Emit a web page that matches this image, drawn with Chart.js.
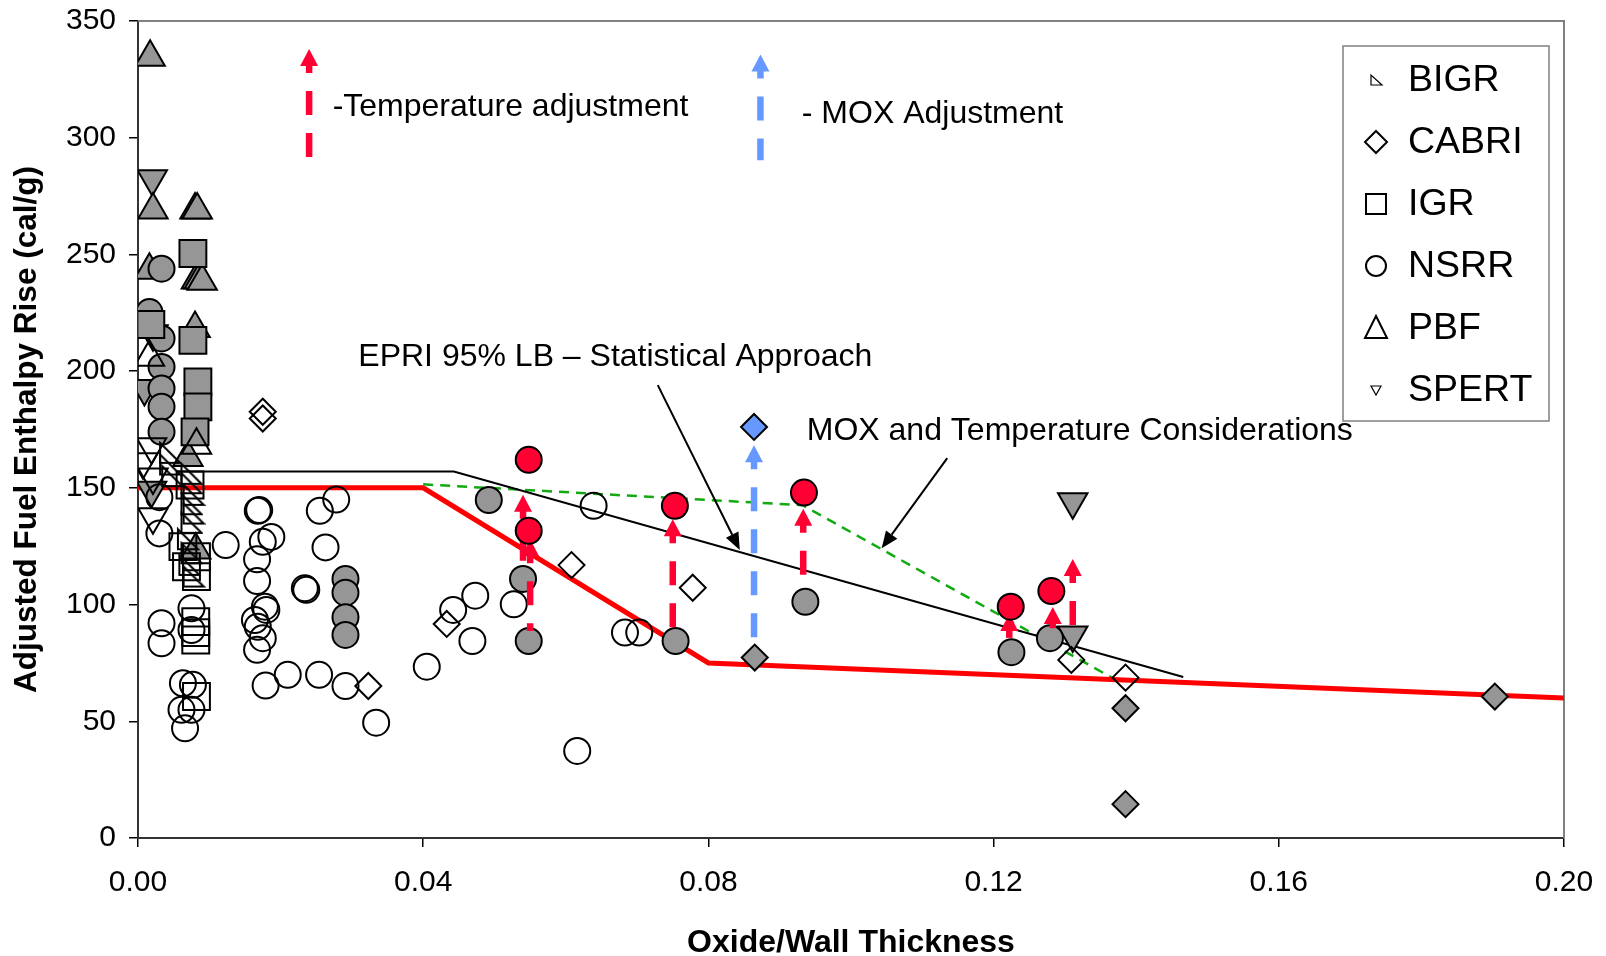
<!DOCTYPE html>
<html>
<head>
<meta charset="utf-8">
<script src="https://cdn.jsdelivr.net/npm/chart.js@4.4.1/dist/chart.umd.min.js"></script>
<style>
html,body{margin:0;padding:0;background:#fff;}
#wrap{width:1606px;height:956px;position:relative;}
</style>
</head>
<body>
<div id="wrap"><canvas id="c" width="1606" height="956"></canvas></div>
<script>
// ---------------- DATA ----------------
const xTicks = [0, 0.04, 0.08, 0.12, 0.16, 0.20];
const yTicks = [0, 50, 100, 150, 200, 250, 300, 350];
const legendSeries = ['BIGR', 'CABRI', 'IGR', 'NSRR', 'PBF', 'SPERT'];

// open (unfilled) markers
const bigrOpen = [[0.0045,165],[0.0045,160],[0.0048,155],[0.0075,156],[0.0075,152],[0.0078,147],[0.0075,143],[0.0078,139],[0.0075,135],[0.0070,128],[0.0075,122],[0.0072,117],[0.0078,112]];
const cabriOpen = [[0.0175,182.6],[0.0175,179.7],[0.0323,65.1],[0.0608,116.9],[0.0778,107.2],[0.0433,91.7],[0.1309,76.3],[0.1385,68.7]];
const igrOpen = [[0.0073,151.2],[0.0063,124.8],[0.0082,120.5],[0.0068,116.2],[0.0082,112],[0.0081,92.7],[0.0081,88],[0.0081,84.8],[0.0082,60.6]];
const nsrrOpen = [[0.0030,146],[0.0030,130.5],[0.0033,92],[0.0033,83.4],[0.0075,98.4],[0.0075,89.1],[0.0063,66.3],[0.0077,65.6],[0.0061,54.9],[0.0075,54.9],[0.0066,47],
  [0.0123,125.5],[0.0168,140.2],[0.0170,140.5],[0.0255,140.2],[0.0278,145],[0.0175,126.9],[0.0187,129],[0.0263,124.5],[0.0167,119.4],[0.0167,110.1],[0.0234,107],[0.0236,106.3],
  [0.0178,99.1],[0.0180,97.7],[0.0164,93.4],[0.0168,90.5],[0.0175,85.6],[0.0167,80.6],[0.0179,65.3],[0.0210,69.9],[0.0254,69.9],[0.0291,65.1],[0.0334,49.4],
  [0.0473,103.8],[0.0442,97.7],[0.0527,100.1],[0.0469,84.4],[0.0405,73.4],[0.0683,88],[0.0703,88],[0.0616,37.3],[0.0639,142.3]];
const pbfOpen = [[0.0016,206],[0.0082,168.3]];
const spertOpen = [[0.0019,167.6],[0.0007,161.2],[0.0021,154.7],[0.0021,137.6]];

// filled (grey) markers
const cabriFilled = [[0.0865,77.3],[0.1385,55.6],[0.1385,14.5],[0.1903,60.6]];
const igrFilled = [[0.0077,250.4],[0.0018,220],[0.0077,213.2],[0.0084,195.4],[0.0084,184.7],[0.0080,174]];
const nsrrFilled = [[0.0016,225.3],[0.0033,243.9],[0.0033,214],[0.0033,201.8],[0.0033,192.6],[0.0033,184.7],[0.0033,174],
  [0.0291,111],[0.0291,105.1],[0.0291,94.6],[0.0291,87],[0.0492,144.8],[0.0540,111],[0.0548,84.4],[0.0754,84.4],[0.0936,101.2],[0.1225,79.6],[0.1279,85.6]];
const pbfFilled = [[0.0017,334.5],[0.0021,269],[0.0080,269],[0.0083,269],[0.0016,243.2],[0.0082,239],[0.0086,239],[0.0090,238.5],[0.0080,218.3],[0.0070,163],[0.0081,123.4]];
const spertFilled = [[0.0020,282.4],[0.0021,216],[0.0009,192.6],[0.0019,149],[0.1311,144],[0.1311,87]];

// adjusted points
const tempAdjusted = [[0.0548,162],[0.0548,131.6],[0.0753,142.3],[0.0934,148],[0.1224,99.1],[0.1281,105.8]];
const moxAdjusted = [[0.0864,176.1]];

// lines
const limitX = [0, 0.04, 0.08, 0.20];
const limitY = [150, 150, 75, 60];
const epriX = [0.0055, 0.0443, 0.1466];
const epriY = [157, 157, 69];
const moxTempX = [0.040, 0.0932, 0.137];
const moxTempY = [151.5, 142.6, 68];

// adjustment arrows: x, from, to
const tempArrowX = [0.0540, 0.0550, 0.0750, 0.0933, 0.1222, 0.1283, 0.1311];
const tempArrowFrom = [111, 84.4, 84.4, 101.2, 79.6, 85.6, 87];
const tempArrowTo = [147, 128, 136.5, 141, 96, 99, 119.5];
const moxArrowX = [0.0864];
const moxArrowFrom = [77.3];
const moxArrowTo = [168.3];
// key arrows next to the notes
const keyArrowX = [0.0240, 0.0873];
const keyArrowFrom = [291.4, 290.3];
const keyArrowTo = [338, 335.7];

// pointer arrows (black)
const pointerFromX = [0.0729, 0.1135];
const pointerFromY = [194, 162.7];
const pointerToX = [0.0844, 0.1043];
const pointerToY = [123.4, 124.1];

// notes
const noteText = ['-Temperature adjustment', '- MOX Adjustment', 'EPRI 95% LB \u2013 Statistical Approach', 'MOX and Temperature Considerations'];
const noteX = [0.0273, 0.0931, 0.0309, 0.0938];
const noteY = [313.1, 310.1, 206.1, 174.1];

// ---------------- STYLE ----------------
const FONT = "'Liberation Sans', Arial, sans-serif";
const GREY = '#969696';
const RED = '#FF0033';
const BLUE = '#6699FF';

function rightTri(size, lw) {
  const c = document.createElement('canvas');
  c.width = size; c.height = size;
  const g = c.getContext('2d');
  g.beginPath();
  g.moveTo(lw, lw);
  g.lineTo(lw, size - lw);
  g.lineTo(size - lw, size - lw);
  g.closePath();
  g.lineWidth = lw; g.strokeStyle = '#000'; g.lineJoin = 'miter';
  g.stroke();
  return c;
}
const bigrImg = rightTri(24, 2);

const pts = a => a.map(p => ({x: p[0], y: p[1]}));
const xy = (xs, ys) => xs.map((x, i) => ({x, y: ys[i]}));

function mk(label, arr, style, r, fill, extra) {
  return Object.assign({
    label, data: pts(arr), pointStyle: style, pointRadius: r, pointHoverRadius: r,
    backgroundColor: fill, borderColor: '#000', borderWidth: 2, showLine: false, order: 5
  }, extra || {});
}

const datasets = [
  {label: 'limit', data: xy(limitX, limitY), showLine: true, borderColor: '#FF0000', borderWidth: 5, pointRadius: 0, order: 10, borderJoinStyle: 'miter'},
  {label: 'EPRI', data: xy(epriX, epriY), showLine: true, borderColor: '#000', borderWidth: 2, pointRadius: 0, order: 10},
  {label: 'MOXT', data: xy(moxTempX, moxTempY), showLine: true, borderColor: '#11AA11', borderWidth: 2.5, borderDash: [10, 7], pointRadius: 0, order: 10},
  mk('BIGR', bigrOpen, bigrImg, 12, 'transparent'),
  mk('CABRI', cabriOpen, 'rectRot', 13, 'transparent'),
  mk('IGR', igrOpen, 'rect', 19, 'transparent'),
  mk('NSRR', nsrrOpen, 'circle', 13, 'transparent'),
  mk('PBF', pbfOpen, 'triangle', 17, 'transparent'),
  mk('SPERT', spertOpen, 'triangle', 17, 'transparent', {rotation: 180}),
  mk('CABRI failed', cabriFilled, 'rectRot', 13, GREY),
  mk('IGR failed', igrFilled, 'rect', 19, GREY),
  mk('NSRR failed', nsrrFilled, 'circle', 13, GREY),
  mk('PBF failed', pbfFilled, 'triangle', 17, GREY),
  mk('SPERT failed', spertFilled, 'triangle', 17, GREY, {rotation: 180}),
  mk('Temperature adjusted', tempAdjusted, 'circle', 13, RED, {order: 2, arrowsBefore: true}),
  mk('MOX adjusted', moxAdjusted, 'rectRot', 13, BLUE, {order: 1})
];

function drawArrow(ctx, x, y0, y1, color, dashOffset, startGap) {
  const headW = 18, headH = 17;
  ctx.save();
  ctx.strokeStyle = color; ctx.fillStyle = color;
  ctx.lineWidth = 6.5;
  ctx.setLineDash([24, 18]);
  ctx.lineDashOffset = dashOffset;
  ctx.beginPath();
  ctx.moveTo(x, y1 + headH - 1);
  ctx.lineTo(x, y0 - startGap);
  ctx.stroke();
  ctx.setLineDash([]);
  ctx.beginPath();
  ctx.moveTo(x, y1);
  ctx.lineTo(x - headW / 2, y1 + headH);
  ctx.lineTo(x + headW / 2, y1 + headH);
  ctx.closePath();
  ctx.fill();
  ctx.restore();
}

function drawAdjustArrows(chart) {
  const ctx = chart.ctx, xs = chart.scales.x, ys = chart.scales.y;
  tempArrowX.forEach((x, i) => drawArrow(ctx, xs.getPixelForValue(x), ys.getPixelForValue(tempArrowFrom[i]), ys.getPixelForValue(tempArrowTo[i]), RED, 16, 10));
  moxArrowX.forEach((x, i) => drawArrow(ctx, xs.getPixelForValue(x), ys.getPixelForValue(moxArrowFrom[i]), ys.getPixelForValue(moxArrowTo[i]), BLUE, 16, 12));
}

function legendMarker(ctx, name, x, y) {
  ctx.save();
  ctx.strokeStyle = '#000'; ctx.lineWidth = 2; ctx.fillStyle = '#fff';
  ctx.beginPath();
  if (name === 'BIGR') {
    ctx.lineWidth = 1.2;
    ctx.moveTo(x - 5, y - 5); ctx.lineTo(x - 5, y + 5); ctx.lineTo(x + 6, y + 5); ctx.closePath();
  } else if (name === 'CABRI') {
    const r = 11; ctx.moveTo(x, y - r); ctx.lineTo(x + r, y); ctx.lineTo(x, y + r); ctx.lineTo(x - r, y); ctx.closePath();
  } else if (name === 'IGR') {
    ctx.rect(x - 10, y - 10, 20, 20);
  } else if (name === 'NSRR') {
    ctx.arc(x, y, 10, 0, Math.PI * 2);
  } else if (name === 'PBF') {
    ctx.moveTo(x, y - 12); ctx.lineTo(x + 11, y + 10); ctx.lineTo(x - 11, y + 10); ctx.closePath();
  } else if (name === 'SPERT') {
    ctx.lineWidth = 1.2;
    ctx.moveTo(x - 5, y - 4); ctx.lineTo(x + 5, y - 4); ctx.lineTo(x, y + 5); ctx.closePath();
  }
  ctx.fill(); ctx.stroke();
  ctx.restore();
}

const overlay = {
  id: 'overlay',
  beforeDatasetsDraw(chart) {
    const {ctx, chartArea: a} = chart;
    ctx.save();
    ctx.strokeStyle = '#808080'; ctx.lineWidth = 2;
    ctx.beginPath();
    ctx.moveTo(a.left, a.top); ctx.lineTo(a.right, a.top); ctx.lineTo(a.right, a.bottom);
    ctx.stroke();
    ctx.restore();
  },
  beforeDatasetDraw(chart, args) {
    if (chart.data.datasets[args.index].arrowsBefore) drawAdjustArrows(chart);
  },
  afterDatasetsDraw(chart) {
    const ctx = chart.ctx, xs = chart.scales.x, ys = chart.scales.y;
    drawArrow(ctx, xs.getPixelForValue(keyArrowX[0]), ys.getPixelForValue(keyArrowFrom[0]), ys.getPixelForValue(keyArrowTo[0]), RED, 16, 0);
    drawArrow(ctx, xs.getPixelForValue(keyArrowX[1]), ys.getPixelForValue(keyArrowFrom[1]), ys.getPixelForValue(keyArrowTo[1]), BLUE, 16, 0);
    ctx.save();
    ctx.strokeStyle = '#000'; ctx.fillStyle = '#000'; ctx.lineWidth = 2;
    pointerFromX.forEach((fx, i) => {
      const x0 = xs.getPixelForValue(fx), y0 = ys.getPixelForValue(pointerFromY[i]);
      const x1 = xs.getPixelForValue(pointerToX[i]), y1 = ys.getPixelForValue(pointerToY[i]);
      const ang = Math.atan2(y1 - y0, x1 - x0), L = 17, W = 7;
      const bx = x1 - Math.cos(ang) * L, by = y1 - Math.sin(ang) * L;
      ctx.beginPath(); ctx.moveTo(x0, y0); ctx.lineTo(bx, by); ctx.stroke();
      ctx.beginPath();
      ctx.moveTo(x1, y1);
      ctx.lineTo(bx - Math.sin(ang) * W, by + Math.cos(ang) * W);
      ctx.lineTo(bx + Math.sin(ang) * W, by - Math.cos(ang) * W);
      ctx.closePath(); ctx.fill();
    });
    ctx.font = '32px ' + FONT;
    ctx.textAlign = 'left'; ctx.textBaseline = 'middle';
    noteText.forEach((t, i) => ctx.fillText(t, xs.getPixelForValue(noteX[i]), ys.getPixelForValue(noteY[i])));
    ctx.restore();
  },
  afterDraw(chart) {
    const ctx = chart.ctx;
    const l = 1343, t = 46, r = 1549, b = 421;
    ctx.save();
    ctx.fillStyle = '#fff'; ctx.fillRect(l, t, r - l, b - t);
    ctx.strokeStyle = '#808080'; ctx.lineWidth = 1.5; ctx.strokeRect(l, t, r - l, b - t);
    const rowY = [80, 142, 204, 266, 328, 390];
    legendSeries.forEach((name, i) => {
      legendMarker(ctx, name, 1376, rowY[i]);
      ctx.fillStyle = '#000';
      ctx.font = '37.5px ' + FONT;
      ctx.textAlign = 'left'; ctx.textBaseline = 'middle';
      ctx.fillText(name, 1408, rowY[i] + 1);
    });
    ctx.restore();
  }
};

new Chart(document.getElementById('c'), {
  type: 'scatter',
  data: {datasets},
  plugins: [overlay],
  options: {
    responsive: false,
    animation: false,
    devicePixelRatio: 1,
    layout: {padding: {top: 20.5, right: 42, left: 0, bottom: 0}},
    plugins: {legend: {display: false}, tooltip: {enabled: false}},
    scales: {
      x: {
        type: 'linear', min: 0, max: 0.2,
        afterBuildTicks: s => { s.ticks = xTicks.map(v => ({value: v})); },
        afterFit: s => { s.height = 118; s.paddingLeft = 0; s.paddingRight = 0; },
        grid: {drawOnChartArea: false, drawTicks: true, tickLength: 9, color: '#000', lineWidth: 1.5},
        border: {display: true, color: '#333', width: 2},
        ticks: {color: '#000', font: {family: FONT, size: 30}, padding: 18, maxRotation: 0, callback: v => Number(v).toFixed(2)},
        title: {display: true, text: 'Oxide/Wall Thickness', color: '#000', font: {family: FONT, size: 32, weight: 'bold', lineHeight: 0.8}, padding: {top: 0, bottom: 0}}
      },
      y: {
        type: 'linear', min: 0, max: 350,
        afterBuildTicks: s => { s.ticks = yTicks.map(v => ({value: v})); },
        afterFit: s => { s.width = 138; s.paddingTop = 0; s.paddingBottom = 0; },
        grid: {drawOnChartArea: false, drawTicks: true, tickLength: 9, color: '#000', lineWidth: 1.5},
        border: {display: true, color: '#333', width: 2},
        ticks: {color: '#000', font: {family: FONT, size: 30}, padding: 13, callback: v => String(v)},
        title: {display: true, text: 'Adjusted Fuel Enthalpy Rise (cal/g)', color: '#000', font: {family: FONT, size: 31.5, weight: 'bold', lineHeight: 1.2}, padding: {top: 8, bottom: 0}}
      }
    }
  }
});
</script>
</body>
</html>
